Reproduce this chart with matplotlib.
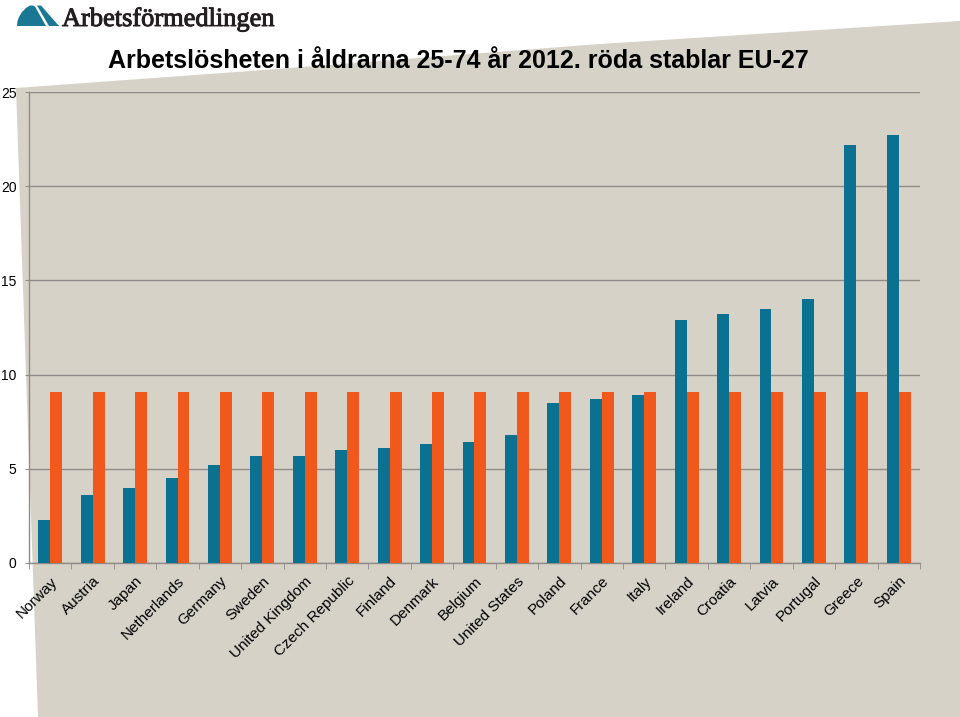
import numpy as np
import matplotlib.pyplot as plt
import matplotlib.patheffects as pe
from matplotlib.patches import Polygon

countries = ['Norway', 'Austria', 'Japan', 'Netherlands', 'Germany', 'Sweden',
             'United Kingdom', 'Czech Republic', 'Finland', 'Denmark', 'Belgium',
             'United States', 'Poland', 'France', 'Italy', 'Ireland', 'Croatia',
             'Latvia', 'Portugal', 'Greece', 'Spain']
unemployment = [2.3, 3.6, 4.0, 4.5, 5.2, 5.7, 5.7, 6.0, 6.1, 6.3, 6.4,
                6.8, 8.5, 8.7, 8.9, 12.9, 13.2, 13.5, 14.0, 22.2, 22.7]
eu27 = [9.1] * len(countries)

W, H = 960, 717
BLUE = '#0b7190'
ORANGE = '#f0591b'
BEIGE = '#d6d2c8'
GRID = '#8f8b86'


def px(x, y):
    # pixel (from top-left) -> figure fraction
    return (x / W, 1 - y / H)


fig = plt.figure(figsize=(9.6, 7.17), dpi=100)
fig.patch.set_facecolor('white')

# beige backdrop with slanted top
bg = [px(16, 88), px(250, 71), px(600, 44), px(960, 21), px(960, 717), px(38, 717)]
fig.patches.append(Polygon(bg, closed=True, transform=fig.transFigure,
                           facecolor=BEIGE, edgecolor='none', zorder=-10))

# logo
logo1 = [px(17, 26), px(17.5, 21), px(19, 17), px(22, 12), px(26, 8), px(30, 5.5),
         px(33, 5.5), px(35, 6.5), px(46, 26)]
logo2 = [px(37, 5.5), px(41, 5.5), px(59, 26), px(49, 26)]
for pts in (logo1, logo2):
    fig.patches.append(Polygon(pts, closed=True, transform=fig.transFigure,
                               facecolor='#1a7895', edgecolor='none', zorder=-5))
fig.text(62 / W, 1 - 26 / H, 'Arbetsförmedlingen', fontsize=19,
         family='Liberation Serif', color='#231f20', ha='left', va='baseline',
         path_effects=[pe.withStroke(linewidth=0.7, foreground='#231f20')])

fig.text(108 / W, 1 - 68 / H, 'Arbetslösheten i åldrarna 25-74 år 2012. röda stablar EU-27',
         fontsize=18, fontweight='bold', family='Liberation Sans',
         ha='left', va='baseline')

ax = fig.add_axes([29 / W, 1 - 563 / H, (920 - 29) / W, (563 - 92) / H])
ax.set_facecolor('none')

x = np.arange(len(countries))
bw = 0.28
ax.bar(x - bw / 2, unemployment, bw, color=BLUE, zorder=3)
ax.bar(x + bw / 2, eu27, bw, color=ORANGE, zorder=3)

ax.set_xlim(-0.5, len(countries) - 0.5)
ax.set_ylim(0, 25)
ax.set_yticks([0, 5, 10, 15, 20, 25])
ax.yaxis.grid(True, color=GRID, linewidth=1, zorder=1)

ax.set_xticks(x)
ax.set_xticklabels(countries, rotation=45, ha='right', rotation_mode='anchor',
                   fontsize=11, family='Liberation Sans')
ax.set_xticks(np.arange(-0.5, len(countries)), minor=True)
ax.tick_params(axis='x', which='major', length=0, pad=8)
ax.tick_params(axis='x', which='minor', length=4, color=GRID, direction='out')
ax.tick_params(axis='y', length=3, color=GRID, pad=6, labelsize=10)
for lab in ax.get_yticklabels():
    lab.set_family('Liberation Sans')

for s in ('top', 'right'):
    ax.spines[s].set_visible(False)
for s in ('left', 'bottom'):
    ax.spines[s].set_color(GRID)
    ax.spines[s].set_linewidth(1)

plt.savefig('out.png', dpi=100)
